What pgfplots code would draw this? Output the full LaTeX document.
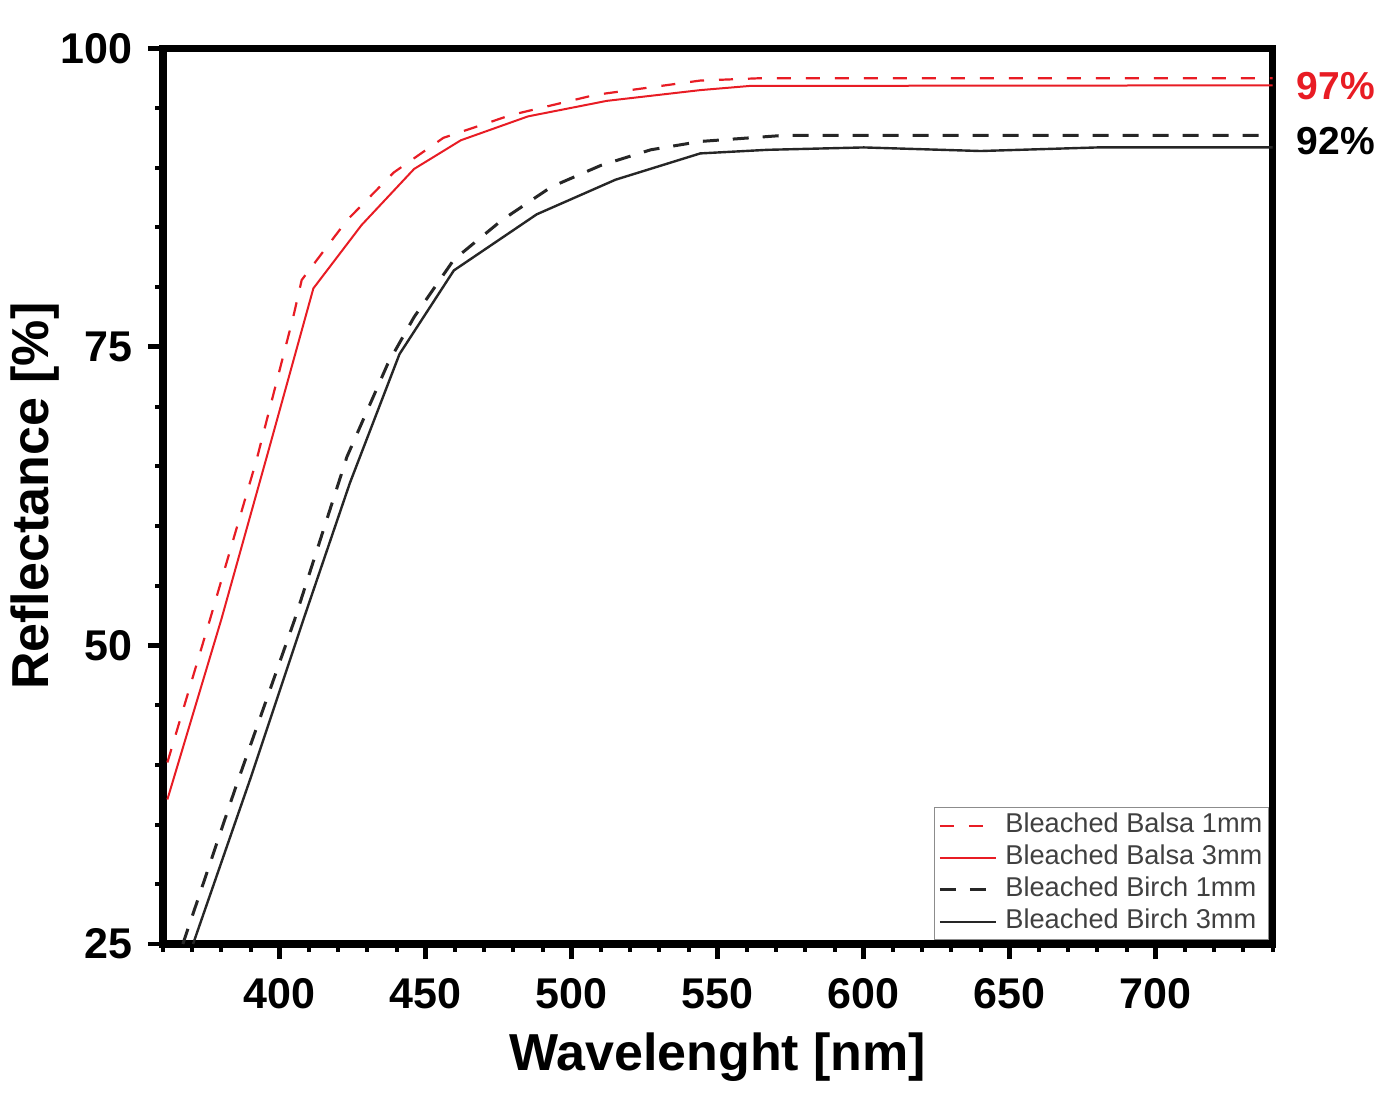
\documentclass[border=0pt]{standalone}
\usepackage{fontspec}
\setmainfont{Liberation Sans}
\usepackage{pgfplots}
\pgfplotsset{compat=1.18}
\definecolor{myred}{RGB}{232,28,36}
\definecolor{leggray}{RGB}{64,64,64}
\begin{document}
\begin{tikzpicture}
\begin{axis}[
  scale only axis,
  width=554.8pt, height=447.85pt,
  xmin=360, xmax=740, ymin=25, ymax=100,
  xtick={400,450,500,550,600,650,700},
  ytick={25,50,75,100},
  minor xtick={360,370,...,740},
  minor ytick={30,35,...,95},
  tick align=outside,
  tick pos=left,
  axis line style={line width=3.6pt, line cap=rect},
  major tick length=7.5pt,
  minor tick length=3.8pt,
  every major tick/.style={line width=2.4pt, black},
  every minor tick/.style={line width=2pt, black},
  /pgf/number format/assume math mode=true,
  ticklabel style={font=\bfseries\fontsize{21.5}{24}\selectfont},
  xticklabel style={yshift=-6pt},
  yticklabel style={xshift=-4.5pt},
  xlabel={Wavelenght [nm]},
  ylabel={Reflectance [\%]},
  label style={font=\bfseries\fontsize{26}{30}\selectfont},
  xlabel style={at={(axis description cs:0.5,-0.126)}, anchor=center},
  ylabel style={at={(axis description cs:-0.1153,0.5)}, anchor=center},
  clip mode=individual,
  legend style={
    at={(rel axis cs:1,0)}, anchor=south east, xshift=-1.8pt, yshift=1.8pt,
    draw=black!45, line width=0.6pt, fill=white,
    font=\fontsize{13.6}{16}\selectfont, text=leggray,
    inner xsep=2pt, inner ysep=1pt,
    row sep=0pt, column sep=3pt,
    nodes={inner sep=1pt, text height=10.5pt, text depth=3.5pt},
  },
  legend cell align=left,
  legend image code/.code={\draw[#1] (0pt,0pt) -- (28pt,0pt);},
]
\addplot[myred, line width=1.1pt, dash pattern=on 7pt off 7.5pt] coordinates {
(361.5,40.2) (376,52.1) (392,65.5) (404.6,77.5) (407.5,80.6) (423,85.6) (439,89.6) (456,92.5) (479,94.4) (508,96.1) (544,97.3) (565,97.5) (740,97.5)
};
\addlegendentry{Bleached Balsa 1mm}
\addplot[myred, line width=1pt] coordinates {
(361.5,37.1) (380,52.2) (396,66.2) (411.5,79.9) (428,85.2) (446,89.9) (462,92.3) (485,94.3) (512,95.6) (544,96.5) (561,96.85) (740,96.9)
};
\addlegendentry{Bleached Balsa 3mm}
\addplot[black!85, line width=1.5pt, dash pattern=on 8pt off 7pt] coordinates {
(366.8,25) (385,38.2) (405,52.1) (423,65.8) (437,73.6) (446,77.5) (459.6,82.3) (476,85.6) (493,88.4) (510,90.2) (527,91.5) (544,92.2) (572,92.7) (740,92.7)
};
\addlegendentry{Bleached Birch 1mm}
\addplot[black!85, line width=1.2pt] coordinates {
(370.3,25) (390,38.9) (408,52.1) (424,63.6) (441,74.4) (459.6,81.4) (488,86.1) (515,89.0) (544,91.2) (567,91.5) (600,91.7) (640,91.4) (680,91.7) (740,91.7)
};
\addlegendentry{Bleached Birch 3mm}
\node[anchor=west, inner sep=0pt, text=myred, font=\bfseries\fontsize{19.5}{22}\selectfont] at (axis cs:748.2,96.86) {97\%};
\node[anchor=west, inner sep=0pt, text=black, font=\bfseries\fontsize{19.5}{22}\selectfont] at (axis cs:748.2,92.25) {92\%};
\end{axis}
\pgfresetboundingbox
\path[use as bounding box] (-81.5pt,-77.5pt) rectangle (609pt,472pt);
\end{tikzpicture}
\end{document}
